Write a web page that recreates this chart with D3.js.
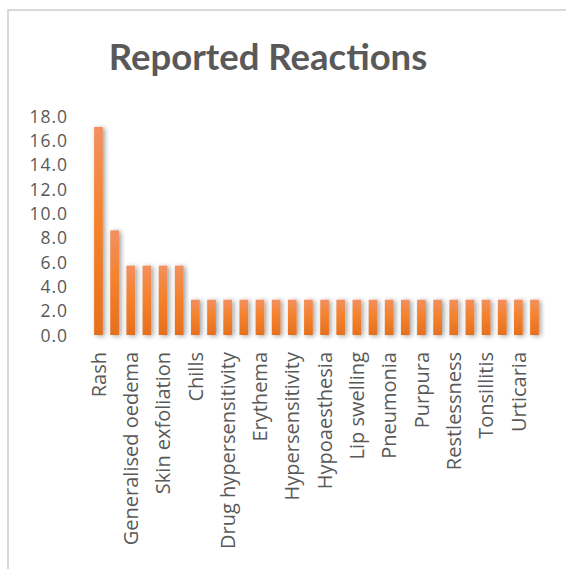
<!DOCTYPE html>
<html>
<head>
<meta charset="utf-8">
<script src="https://cdn.jsdelivr.net/npm/d3@7"></script>
<style>
  html, body { margin: 0; padding: 0; background: #fff; }
  svg { display: block; }
</style>
</head>
<body>
<div id="chart"></div>
<script>
const categories = [
  "Rash", "Angioedema", "Generalised oedema", "Pruritus", "Skin exfoliation", "Swelling face",
  "Chills", "Dermatitis", "Drug hypersensitivity", "Dyspnoea", "Erythema", "Eye swelling",
  "Hypersensitivity", "Hypertension", "Hypoaesthesia", "Lip oedema", "Lip swelling", "Nausea",
  "Pneumonia", "Pruritus generalised", "Purpura", "Rash pruritic", "Restlessness", "Skin lesion",
  "Tonsillitis", "Tremor", "Urticaria", "Vomiting"
];
const values = [
  17.1, 8.6, 5.7, 5.7, 5.7, 5.7,
  2.9, 2.9, 2.9, 2.9, 2.9, 2.9,
  2.9, 2.9, 2.9, 2.9, 2.9, 2.9,
  2.9, 2.9, 2.9, 2.9, 2.9, 2.9,
  2.9, 2.9, 2.9, 2.9
];
const yTicks = [0, 2, 4, 6, 8, 10, 12, 14, 16, 18];
const title = "Reported Reactions";

const W = 566, H = 569;
const FONT = "'Open Sans', sans-serif";
const svg = d3.select("#chart").append("svg").attr("width", W).attr("height", H);

const defs = svg.append("defs");
const grad = defs.append("linearGradient").attr("id", "barGrad")
  .attr("x1", 0).attr("y1", 0).attr("x2", 0).attr("y2", 1);
grad.append("stop").attr("offset", "0%").attr("stop-color", "#F29060");
grad.append("stop").attr("offset", "45%").attr("stop-color", "#F4822E");
grad.append("stop").attr("offset", "100%").attr("stop-color", "#E5701E");

const shadow = defs.append("filter").attr("id", "shadow")
  .attr("x", "-60%").attr("y", "-10%").attr("width", "220%").attr("height", "130%");
shadow.append("feDropShadow").attr("dx", 2).attr("dy", 1).attr("stdDeviation", 2.4)
  .attr("flood-color", "#000").attr("flood-opacity", 0.38);

// chart border
svg.append("rect").attr("x", 8).attr("y", 10).attr("width", W).attr("height", H)
  .attr("fill", "none").attr("stroke", "#D9D9D9").attr("stroke-width", 2);

// title
svg.append("text").attr("x", 268).attr("y", 70).attr("text-anchor", "middle")
  .attr("font-family", "Lato, 'Open Sans', sans-serif").attr("font-weight", "bold")
  .attr("font-size", 36.5).attr("fill", "#595959").text(title);

const x = d3.scaleBand().domain(categories).range([90.4, 542.6]).paddingInner(0.46).paddingOuter(0.23);
const y = d3.scaleLinear().domain([0, 18]).range([335, 116]);

// axis line
svg.append("line").attr("x1", 89).attr("x2", 545).attr("y1", 336).attr("y2", 336)
  .attr("stroke", "#D9D9D9").attr("stroke-width", 2.5).attr("filter", "url(#shadow)");

// bars
svg.append("g").selectAll("rect").data(values).join("rect")
  .attr("x", (d, i) => x(categories[i]))
  .attr("width", x.bandwidth())
  .attr("y", d => y(d))
  .attr("height", d => y(0) - y(d))
  .attr("fill", "url(#barGrad)")
  .attr("filter", "url(#shadow)");

// y axis
const yAxis = d3.axisLeft(y).tickValues(yTicks).tickFormat(d3.format(".1f")).tickSize(0).tickPadding(0);
const yg = svg.append("g").attr("transform", "translate(68,0)").call(yAxis);
yg.select(".domain").remove();
yg.selectAll("text").attr("font-family", FONT).attr("font-size", 17.5)
  .attr("letter-spacing", "1px")
  .attr("fill", "#595959").attr("dy", "0.36em");

// x axis labels (every other category shown)
const xAxis = d3.axisBottom(x).tickSize(0).tickPadding(0)
  .tickFormat((d, i) => i % 2 === 0 ? d : "");
const xg = svg.append("g").attr("transform", "translate(0,352)").call(xAxis);
xg.select(".domain").remove();
xg.selectAll("text")
  .attr("font-family", FONT).attr("font-size", 20).attr("fill", "#595959")
  .attr("text-anchor", "end").attr("transform", "rotate(-90)")
  .attr("x", 0).attr("y", 0).attr("dx", 0).attr("dy", "0.36em");
</script>
</body>
</html>
